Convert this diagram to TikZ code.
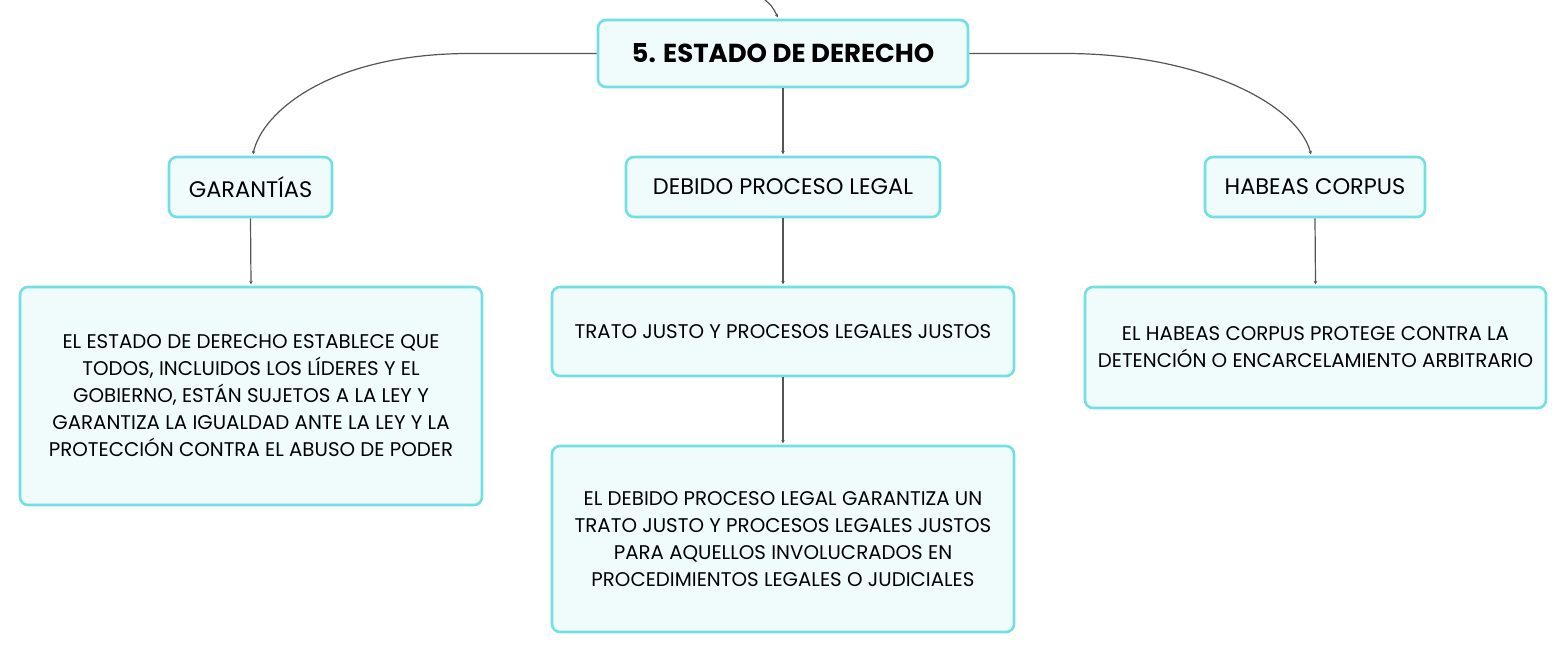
\documentclass[tikz,border=0pt]{standalone}
\usepackage{fontspec}
\setmainfont{Poppins}
\usetikzlibrary{arrows.meta,calc}
\definecolor{boxline}{HTML}{72DFE2}
\definecolor{boxfill}{HTML}{F0FCFC}
\definecolor{conn}{HTML}{555555}
\tikzset{
  mbox/.style={draw=boxline, fill=boxfill, line width=2.6pt, rounded corners=8pt,
    align=center, inner sep=0pt, font=\fontsize{19.8}{27}\selectfont, text=black},
  headbox/.style={mbox, minimum height=60, font=\fontsize{22.5}{27}\selectfont},
  conn/.style={draw=conn, line width=1.2pt, -{Stealth[length=3.5pt,width=3.5pt]}},
}
\begin{document}
\begin{tikzpicture}[x=1pt,y=-1pt]
\useasboundingbox (0,0) rectangle (1567,653);
\node[mbox, minimum width=370, minimum height=67, font=\fontsize{26}{27}\selectfont\bfseries] (main) at (783,53.5) {5. ESTADO DE DERECHO};
\node[headbox, minimum width=163] (gar) at (250.5,187) {GARANTÍAS};
\node[headbox, minimum width=314] (dpl) at (783,187) {DEBIDO PROCESO LEGAL};
\node[headbox, minimum width=220] (hc) at (1315,187) {HABEAS CORPUS};
\node[mbox, minimum width=462, minimum height=218] (gtext) at (251,396) {EL ESTADO DE DERECHO ESTABLECE QUE\\TODOS, INCLUIDOS LOS LÍDERES Y EL\\GOBIERNO, ESTÁN SUJETOS A LA LEY Y\\GARANTIZA LA IGUALDAD ANTE LA LEY Y LA\\PROTECCIÓN CONTRA EL ABUSO DE PODER};
\node[mbox, minimum width=462, minimum height=89] (trato) at (783,331.5) {TRATO JUSTO Y PROCESOS LEGALES JUSTOS};
\node[mbox, minimum width=462, minimum height=186] (dtext) at (783,539) {EL DEBIDO PROCESO LEGAL GARANTIZA UN\\TRATO JUSTO Y PROCESOS LEGALES JUSTOS\\PARA AQUELLOS INVOLUCRADOS EN\\PROCEDIMIENTOS LEGALES O JUDICIALES};
\node[mbox, minimum width=461, minimum height=121] (htext) at (1315.5,347.5) {EL HABEAS CORPUS PROTEGE CONTRA LA\\DETENCIÓN O ENCARCELAMIENTO ARBITRARIO};
\coordinate (topin) at (764,-1);
\coordinate (lbend) at (470,53.5);
\coordinate (rbend) at (1065,53.5);
\draw[conn] (topin) .. controls (772,6) .. ($(main.north)+(-5,-1.3)$);
\draw[conn] (main.west) -- (lbend) .. controls (330,53.5) and (262,112) .. ($(gar.north)+(2.5,-1.3)$);
\draw[conn] (main.east) -- (rbend) .. controls (1200,53.5) and (1298,104) .. ($(hc.north)+(-4,-1.3)$);
\draw[conn] (main.south) -- ($(dpl.north)+(0,-1.3)$);
\draw[conn] (gar.south) -- ($(gtext.north)+(0,-1.3)$);
\draw[conn] (dpl.south) -- ($(trato.north)+(0,-1.3)$);
\draw[conn] (trato.south) -- ($(dtext.north)+(0,-1.3)$);
\draw[conn] (hc.south) -- ($(htext.north)+(0,-1.3)$);
\end{tikzpicture}
\end{document}
